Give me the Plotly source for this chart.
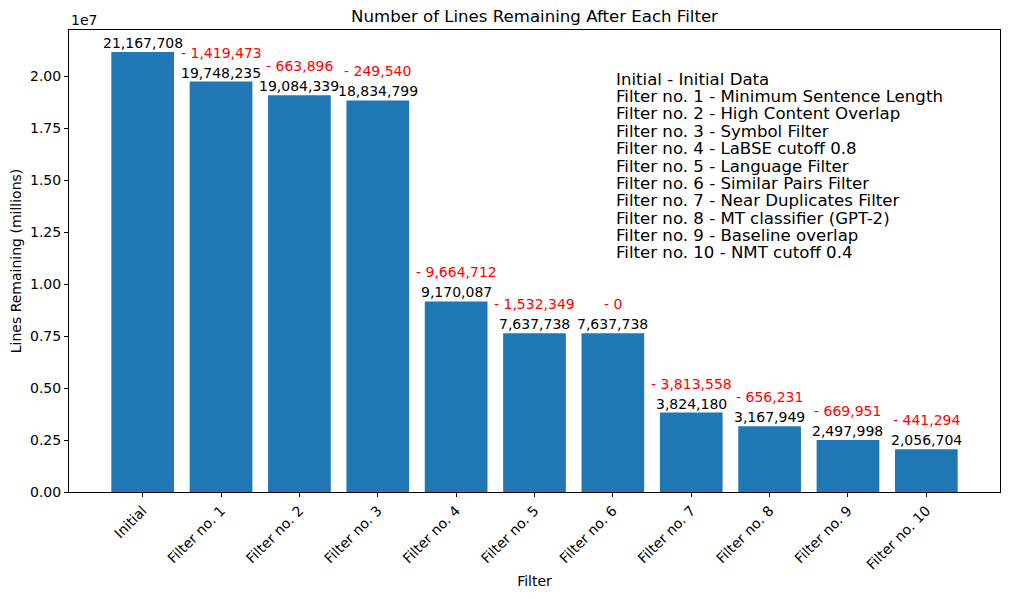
import plotly.graph_objects as go

categories = ["Initial", "Filter no. 1", "Filter no. 2", "Filter no. 3", "Filter no. 4",
              "Filter no. 5", "Filter no. 6", "Filter no. 7", "Filter no. 8", "Filter no. 9",
              "Filter no. 10"]
remaining = [21167708, 19748235, 19084339, 18834799, 9170087, 7637738, 7637738,
             3824180, 3167949, 2497998, 2056704]
removed = [None, 1419473, 663896, 249540, 9664712, 1532349, 0, 3813558, 656231, 669951, 441294]
legend_lines = [
    "Initial - Initial Data",
    "Filter no. 1 - Minimum Sentence Length",
    "Filter no. 2 - High Content Overlap",
    "Filter no. 3 - Symbol Filter",
    "Filter no. 4 - LaBSE cutoff 0.8",
    "Filter no. 5 - Language Filter",
    "Filter no. 6 - Similar Pairs Filter",
    "Filter no. 7 - Near Duplicates Filter",
    "Filter no. 8 - MT classifier (GPT-2)",
    "Filter no. 9 - Baseline overlap",
    "Filter no. 10 - NMT cutoff 0.4",
]
ytick_vals = [0, 2500000, 5000000, 7500000, 10000000, 12500000, 15000000, 17500000, 20000000]
ytick_text = ["0.00", "0.25", "0.50", "0.75", "1.00", "1.25", "1.50", "1.75", "2.00"]

FONT = "DejaVu Sans"
SMALL = 14
BIG = 16.6

W, H = 1010, 599
OFF = 8  # page body margin
L, R, T, B = 69 - OFF, 1000 - OFF, 30 - OFF, 492 - OFF

fig = go.Figure()
fig.add_trace(go.Bar(x=categories, y=remaining, marker_color="#1f77b4",
                     marker_line_width=0, hoverinfo="x+y"))

annotations = []
for c, v in zip(categories, remaining):
    annotations.append(dict(x=c, y=v, xref="x", yref="y", text=f"{v:,}", showarrow=False,
                            yanchor="bottom", xanchor="center", yshift=-1,
                            font=dict(family=FONT, size=SMALL, color="black")))
for c, v, r in zip(categories, remaining, removed):
    if r is None:
        continue
    annotations.append(dict(x=c, y=v, xref="x", yref="y", text=f"- {r:,}", showarrow=False,
                            yanchor="bottom", xanchor="center", yshift=19,
                            font=dict(family=FONT, size=SMALL, color="red")))

for i, line in enumerate(legend_lines):
    ypx = 79 - OFF + i * 17.4
    annotations.append(dict(x=(616 - OFF - L) / (R - L), y=1 - (ypx - T) / (B - T),
                            xref="paper", yref="paper",
                            text=line, showarrow=False, xanchor="left", yanchor="middle",
                            xshift=-2,
                            font=dict(family=FONT, size=BIG, color="black")))

annotations.append(dict(x=0, y=1, xref="paper", yref="paper", text="1e7", showarrow=False,
                        xanchor="left", yanchor="bottom", yshift=0,
                        font=dict(family=FONT, size=SMALL, color="black")))

fig.update_layout(
    width=W, height=H,
    margin=dict(l=L, r=W - R, t=T, b=H - B, autoexpand=False),
    paper_bgcolor="white", plot_bgcolor="white",
    font=dict(family=FONT, size=SMALL, color="black"),
    title=dict(text="Number of Lines Remaining After Each Filter", x=0.5, xref="paper",
               xanchor="center", y=1 - (16 - OFF) / H, yanchor="middle",
               font=dict(family=FONT, size=BIG, color="black")),
    bargap=0.2,
    showlegend=False,
    annotations=annotations,
    xaxis=dict(title=dict(text="Filter", standoff=4, font=dict(family=FONT, size=SMALL)),
               automargin=False,
               range=[-0.94, 10.94], tickangle=-45, showline=True, linecolor="black",
               linewidth=1, mirror=True, ticks="outside", ticklen=4, tickcolor="black",
               showgrid=False, tickfont=dict(family=FONT, size=SMALL, color="black")),
    yaxis=dict(title=dict(text="Lines Remaining (millions)", standoff=6,
                          font=dict(family=FONT, size=SMALL)),
               automargin=False,
               range=[0, 22226093], tickvals=ytick_vals, ticktext=ytick_text,
               showline=True, linecolor="black", linewidth=1, mirror=True,
               ticks="outside", ticklen=4, tickcolor="black", showgrid=False,
               zeroline=False, tickfont=dict(family=FONT, size=SMALL, color="black")),
)

fig.write_html("out.html")
